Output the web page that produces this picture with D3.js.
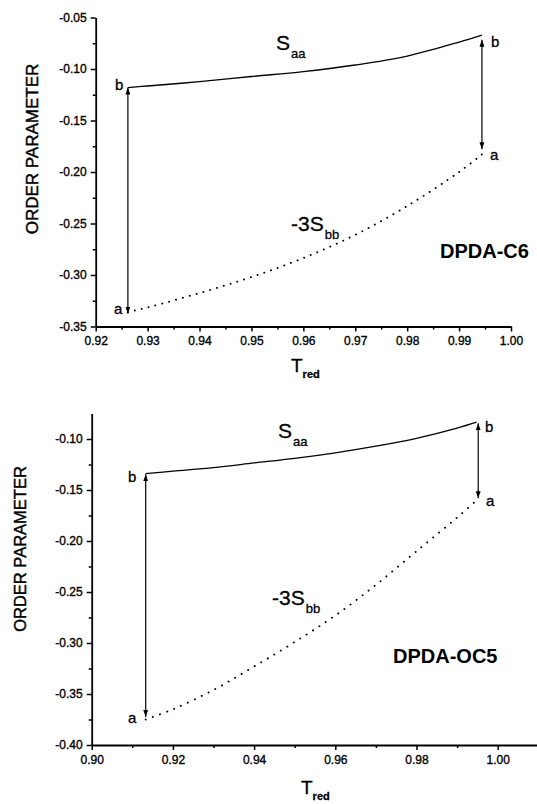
<!DOCTYPE html>
<html><head><meta charset="utf-8">
<script src="https://cdn.jsdelivr.net/npm/d3@7"></script>
<style>
html,body{margin:0;padding:0;background:#fff;}
svg{display:block;}
text{font-family:Arial,"Liberation Sans",Helvetica,sans-serif;fill:#000;}
</style></head>
<body>
<script>
// ---------- DATA ----------
// Top panel: DPDA-C6
const c6T      = [0.9262, 0.930, 0.940, 0.950, 0.960, 0.970, 0.980, 0.990, 0.9944];
const c6Saa    = [-0.118, -0.1165, -0.1123, -0.1073, -0.1025, -0.0961, -0.0874, -0.0738, -0.067];
const c6Sbb3   = [-0.336, -0.3315, -0.3175, -0.302, -0.2835, -0.261, -0.233, -0.200, -0.183];
const c6ArrowT    = [0.9262, 0.9944];
const c6ArrowLow  = [-0.3375, -0.178];
const c6ArrowHigh = [-0.118, -0.0715];
const c6XTicks = [0.92, 0.93, 0.94, 0.95, 0.96, 0.97, 0.98, 0.99, 1.00];
const c6YTicks = [-0.35, -0.30, -0.25, -0.20, -0.15, -0.10, -0.05];

// Bottom panel: DPDA-OC5
const oc5T     = [0.9133, 0.920, 0.930, 0.940, 0.950, 0.960, 0.970, 0.980, 0.990, 0.9948];
const oc5Saa   = [-0.134, -0.1315, -0.128, -0.1235, -0.119, -0.1135, -0.1070, -0.0993, -0.0893, -0.0835];
const oc5Sbb3  = [-0.375, -0.365, -0.346, -0.323, -0.299, -0.273, -0.243, -0.210, -0.177, -0.160];
const oc5ArrowT    = [0.9133, 0.9952];
const oc5ArrowLow  = [-0.3725, -0.158];
const oc5ArrowHigh = [-0.1345, -0.0845];
const oc5XTicks = [0.90, 0.92, 0.94, 0.96, 0.98, 1.00];
const oc5YTicks = [-0.40, -0.35, -0.30, -0.25, -0.20, -0.15, -0.10];

const yTitle = "ORDER PARAMETER";

// ---------- DRAW ----------
const W = 537, H = 804;
const svg = d3.select("body").append("svg").attr("width", W).attr("height", H);

const defs = svg.append("defs");
defs.append("marker").attr("id","ah").attr("viewBox","0 0 10 10")
  .attr("refX",10).attr("refY",5).attr("markerWidth",7).attr("markerHeight",7)
  .attr("markerUnits","userSpaceOnUse").attr("orient","auto-start-reverse")
  .append("path").attr("d","M0,1.5 L10,5 L0,8.5 Z").attr("fill","#000");

function thick(sel, w){ return sel.attr("stroke","#000").attr("stroke-width",w).attr("paint-order","stroke"); }

function panel(cfg){
  const g = svg.append("g");
  const x = d3.scaleLinear().domain(cfg.xDomain).range(cfg.xRange);
  const y = d3.scaleLinear().domain(cfg.yDomain).range(cfg.yRange);
  const x0 = cfg.xRange[0], y0 = cfg.yRange[0];

  // minor ticks
  const xMinor = g.append("g").attr("transform",`translate(0,${y0})`)
    .call(d3.axisBottom(x).tickValues(cfg.xMinor).tickSize(3).tickFormat(""));
  xMinor.select(".domain").remove();
  const yMinor = g.append("g").attr("transform",`translate(${x0},0)`)
    .call(d3.axisLeft(y).tickValues(cfg.yMinor).tickSize(3).tickFormat(""));
  yMinor.select(".domain").remove();

  const xa = g.append("g").attr("transform",`translate(0,${y0})`)
    .call(d3.axisBottom(x).tickValues(cfg.xTicks).tickSize(5).tickSizeOuter(0)
      .tickPadding(5).tickFormat(d3.format(".2f")));
  const ya = g.append("g").attr("transform",`translate(${x0},0)`)
    .call(d3.axisLeft(y).tickValues(cfg.yTicks).tickSize(5).tickSizeOuter(0)
      .tickPadding(4).tickFormat(d3.format(".2f")));
  [xa, ya, xMinor, yMinor].forEach(a=>{
    a.selectAll("line").attr("stroke","#000").attr("stroke-width",1.5);
    a.selectAll(".domain").attr("stroke","#000").attr("stroke-width",1.8);
    a.selectAll("text").attr("font-size","12px").attr("fill","#000")
      .style("font-family","Arial, 'Liberation Sans', sans-serif")
      .attr("stroke","#000").attr("stroke-width",0.35);
  });
  ya.selectAll("text").text(d=>d3.format(".2f")(d).replace("−","-"));

  // data lines
  const pts1 = cfg.T.map((t,i)=>[t,cfg.saa[i]]);
  const pts2 = cfg.T.map((t,i)=>[t,cfg.sbb[i]]);
  const line = d3.line().x(d=>x(d[0])).y(d=>y(d[1])).curve(d3.curveCatmullRom.alpha(0.5));
  g.append("path").attr("d",line(pts1)).attr("fill","none")
    .attr("stroke","#000").attr("stroke-width",1.3);
  g.append("path").attr("d",line(pts2)).attr("fill","none")
    .attr("stroke","#000").attr("stroke-width",1.9)
    .attr("stroke-linecap","round").attr("stroke-dasharray",cfg.dash);

  // arrows
  cfg.aT.forEach((t,i)=>{
    g.append("line").attr("x1",x(t)).attr("x2",x(t))
      .attr("y1",y(cfg.aLow[i])).attr("y2",y(cfg.aHigh[i]))
      .attr("stroke","#000").attr("stroke-width",1.2)
      .attr("marker-start","url(#ah)").attr("marker-end","url(#ah)");
  });

  // labels
  cfg.letters.forEach(l=>{
    thick(g.append("text").attr("x",l[1]).attr("y",l[2]).attr("font-size","15px").text(l[0]),0.3);
  });
  const sa = thick(g.append("text").attr("x",cfg.saaPos[0]).attr("y",cfg.saaPos[1]).attr("font-size","21px"),0.3);
  sa.append("tspan").text("S");
  sa.append("tspan").attr("dy",8).attr("dx",1).attr("font-size","13px").text("aa");
  const sb = thick(g.append("text").attr("x",cfg.sbbPos[0]).attr("y",cfg.sbbPos[1]).attr("font-size","21px"),0.3);
  sb.append("tspan").text("-3S");
  sb.append("tspan").attr("dy",8).attr("dx",1).attr("font-size","13px").text("bb");
  g.append("text").attr("x",cfg.namePos[0]).attr("y",cfg.namePos[1])
    .attr("font-size","20px").attr("font-weight","bold").text(cfg.name);
  const tt = thick(g.append("text").attr("x",cfg.tPos[0]).attr("y",cfg.tPos[1]).attr("font-size","19px"),0.3);
  tt.append("tspan").text("T");
  tt.append("tspan").attr("dy",6).attr("font-size","11px").attr("font-weight","bold").text("red");
  thick(g.append("text").attr("transform",`translate(${cfg.yTitlePos[0]},${cfg.yTitlePos[1]}) rotate(-90)`)
    .attr("text-anchor","middle").attr("font-size",cfg.yTitleSize).text(yTitle),0.45);
}

panel({
  xDomain:[0.92,1.00], xRange:[95.7,511],
  yDomain:[-0.35,-0.05], yRange:[326.5,17.5],
  xTicks:c6XTicks, yTicks:c6YTicks,
  xMinor:d3.range(8).map(i=>0.925+i*0.01),
  yMinor:d3.range(6).map(i=>-0.325+i*0.05),
  T:c6T, saa:c6Saa, sbb:c6Sbb3, dash:"0.1,7",
  aT:c6ArrowT, aLow:c6ArrowLow, aHigh:c6ArrowHigh,
  letters:[["b",115,90],["a",114,314],["b",491,47],["a",490,160]],
  saaPos:[276,50], sbbPos:[291,231], namePos:[440,258],
  tPos:[291,372], yTitlePos:[38,149], yTitleSize:"17px", name:"DPDA-C6"
});

panel({
  xDomain:[0.90,1.01], xRange:[91.7,538.3],
  yDomain:[-0.40,-0.075], yRange:[745,413.5],
  xTicks:oc5XTicks, yTicks:oc5YTicks,
  xMinor:d3.range(5).map(i=>0.91+i*0.02),
  yMinor:d3.range(6).map(i=>-0.375+i*0.05),
  T:oc5T, saa:oc5Saa, sbb:oc5Sbb3, dash:"0.1,7.5",
  aT:oc5ArrowT, aLow:oc5ArrowLow, aHigh:oc5ArrowHigh,
  letters:[["b",128,482],["a",128,723],["b",485,432],["a",486,506]],
  saaPos:[278,438], sbbPos:[272,605], namePos:[393,663],
  tPos:[301,794], yTitlePos:[26,549], yTitleSize:"16.5px", name:"DPDA-OC5"
});
</script>
</body></html>
